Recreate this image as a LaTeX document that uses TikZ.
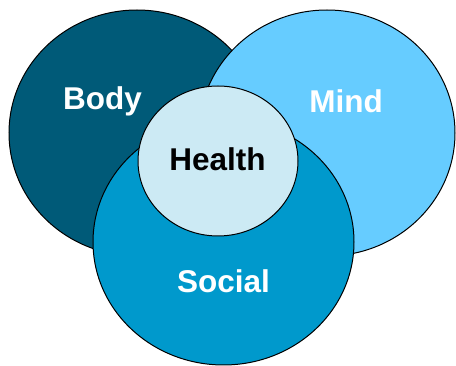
\documentclass[tikz,border=0pt]{standalone}
\usepackage{fontspec}
\setmainfont{Liberation Sans}
\usetikzlibrary{shapes.geometric}
\definecolor{bodyc}{HTML}{005A78}
\definecolor{mindc}{HTML}{66CCFF}
\definecolor{socialc}{HTML}{0099CC}
\definecolor{healthc}{HTML}{CCEAF4}
\begin{document}
\begin{tikzpicture}[x=1pt,y=-1pt,
  blob/.style={ellipse,draw=black,line width=1pt,inner sep=0pt,outer sep=0pt},
  lbl/.style={font=\fontsize{31.5}{34}\selectfont\bfseries,inner sep=0pt}]
\useasboundingbox (0,0) rectangle (456,366);
\node[blob,fill=bodyc,minimum width=256pt,minimum height=246pt] (body) at (137,133) {};
\node[blob,fill=mindc,minimum width=256pt,minimum height=246pt] (mind) at (327,133) {};
\node[blob,fill=socialc,minimum width=261pt,minimum height=246pt] (social) at (223.5,242) {};
\node[blob,fill=healthc,minimum width=160pt,minimum height=150pt] (health) at (218,161) {};
\node[lbl,text=white] (tbody) at (102.5,101) {Body};
\node[lbl,text=white] (tmind) at (346,101) {Mind};
\node[lbl,text=white] (tsocial) at (223.5,281) {Social};
\node[lbl,text=black] (thealth) at (217.5,159) {Health};
\end{tikzpicture}
\end{document}
